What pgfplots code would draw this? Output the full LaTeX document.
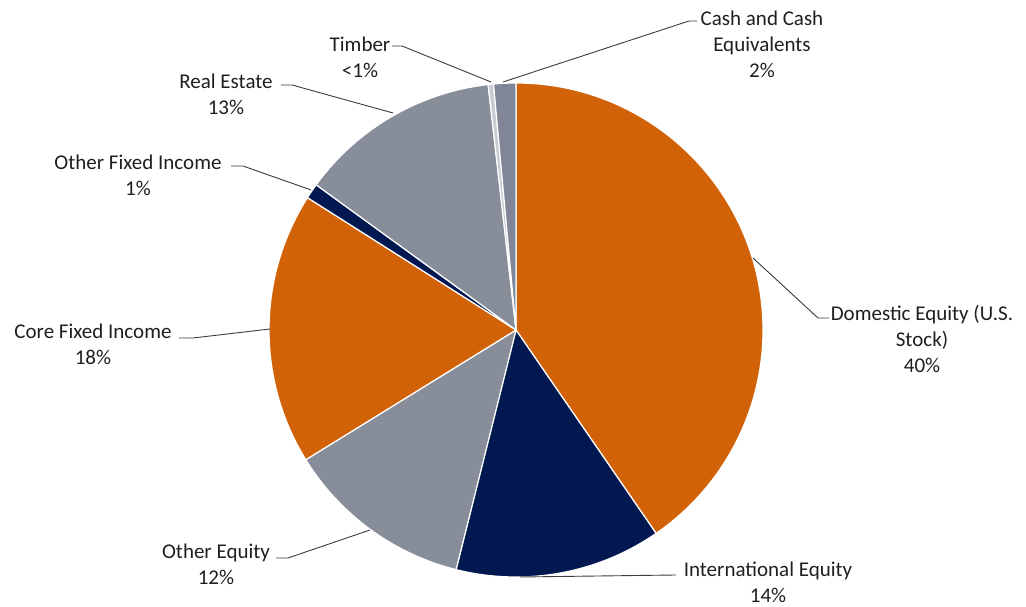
\documentclass[border=0pt]{standalone}
\usepackage{fontspec}
\setmainfont{Carlito}
\usepackage{pgfplots}
\usepackage{pgfplotstable}
\pgfplotsset{compat=1.18}
\definecolor{orng}{RGB}{210,98,8}
\definecolor{navy}{RGB}{2,24,80}
\definecolor{slate}{RGB}{135,142,154}
\definecolor{lightslate}{RGB}{200,205,212}
\definecolor{cashgray}{RGB}{128,134,152}
\definecolor{leader}{RGB}{60,60,60}

\pgfplotstableread{
name          value color
Domestic      40.4  orng
International 13.5  navy
OtherEquity   12.3  slate
CoreFixed     17.8  orng
OtherFixed    1.0   navy
RealEstate    13.2  slate
Timber        0.35  lightslate
Cash          1.45  cashgray
}\piedata

\def\cx{516}
\def\cy{277}
\def\rad{247}
\gdef\curang{90}
\newcommand\slice[2]{%
  \pgfmathsetmacro\sa{\curang}%
  \pgfmathsetmacro\sb{\curang-3.6*#1}%
  \xdef\curang{\sb}%
  \pgfmathsetmacro\px{\cx+\rad*cos(\sa)}%
  \pgfmathsetmacro\py{\cy+\rad*sin(\sa)}%
  \edef\tmp{\noexpand\fill[#2, draw=white, line width=1.2pt, line join=round]
    (axis cs:\cx,\cy) -- (axis cs:\px,\py)
    arc[start angle=\sa, end angle=\sb, radius=\rad pt] -- cycle;}%
  \tmp}

\begin{document}
\begin{tikzpicture}
\begin{axis}[hide axis, x=1pt, y=1pt, xmin=0, xmax=1026, ymin=0, ymax=607,
  clip=false, scale only axis]
\path (axis cs:0,0) rectangle (axis cs:1026,607);
\pgfplotstablegetrowsof{\piedata}
\pgfmathtruncatemacro\nrows{\pgfplotsretval-1}
\pgfplotsforeachungrouped \i in {0,...,\nrows}{%
  \pgfplotstablegetelem{\i}{value}\of\piedata \let\v\pgfplotsretval
  \pgfplotstablegetelem{\i}{color}\of\piedata \let\c\pgfplotsretval
  \slice{\v}{\c}%
}
% leader lines
\tikzset{ll/.style={draw=leader, line width=0.9pt}}
\draw[ll] (axis cs:503,525) -- (axis cs:689,586) -- (axis cs:697,586);
\draw[ll] (axis cs:392,561) -- (axis cs:402,561) -- (axis cs:491,525);
\draw[ll] (axis cs:281,522) -- (axis cs:292,522) -- (axis cs:393,494);
\draw[ll] (axis cs:231,441) -- (axis cs:243,441) -- (axis cs:311,417);
\draw[ll] (axis cs:179,269) -- (axis cs:193,269) -- (axis cs:270,278);
\draw[ll] (axis cs:276,49) -- (axis cs:288,49) -- (axis cs:370,77);
\draw[ll] (axis cs:520,30) -- (axis cs:676,32);
\draw[ll] (axis cs:753,349) -- (axis cs:818,289) -- (axis cs:829,289);
% labels
\tikzset{lbl/.style={align=center, inner sep=0pt, text=black!88,
  font=\fontsize{21}{26}\selectfont}}
\node[lbl] at (axis cs:762,563) {Cash and Cash\\Equivalents\\2\%};
\node[lbl] at (axis cs:360,550) {Timber\\<1\%};
\node[lbl] at (axis cs:226,513) {Real Estate\\13\%};
\node[lbl] at (axis cs:138,432) {Other Fixed Income\\1\%};
\node[lbl] at (axis cs:93,263) {Core Fixed Income\\18\%};
\node[lbl] at (axis cs:216,43) {Other Equity\\12\%};
\node[lbl] at (axis cs:768,25) {International Equity\\14\%};
\node[lbl] at (axis cs:922,268) {Domestic Equity (U.S.\\Stock)\\40\%};
\end{axis}
\end{tikzpicture}
\end{document}
